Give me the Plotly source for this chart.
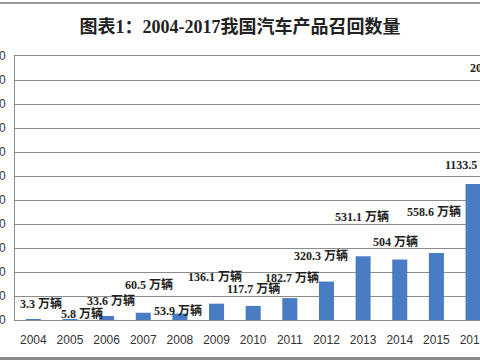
import plotly.graph_objects as go

years = ["2004", "2005", "2006", "2007", "2008", "2009", "2010",
         "2011", "2012", "2013", "2014", "2015", "2016", "2017"]
recalls = [3.3, 5.8, 33.6, 60.5, 53.9, 136.1, 117.7,
           182.7, 320.3, 531.1, 504, 558.6, 1133.5, 2004.5]
label_texts = ["3.3 万辆", "5.8 万辆", "33.6 万辆", "60.5 万辆", "53.9 万辆",
               "136.1 万辆", "117.7 万辆", "182.7 万辆", "320.3 万辆",
               "531.1 万辆", "504 万辆", "558.6 万辆", "1133.5 万辆", "2004.5 万辆"]
# pixel offsets of the hand-placed data labels (style, not data)
label_dx = [8, 12, 4, 6, -2, -2, 0, 2, -5, -1, -4, -2, 1, -10]
label_dy = [16, 6, 15, 28, 3, 27, 17, 21, 26, 40, 18, 41, 19, 12]
y_ticks = list(range(0, 2201, 200))

X_MAX = 12.19          # visible part of the category axis (chart is cropped on the right)
CAT_PX = 465 / (X_MAX + 0.5)  # pixels per category

fig = go.Figure()
fig.add_trace(go.Bar(
    x=years, y=recalls,
    marker=dict(color="#4a7cc4", line=dict(width=0)),
    hoverinfo="x+y",
))

last_visible = int(X_MAX)
for i, (v, t, dx, dy) in enumerate(zip(recalls, label_texts, label_dx, label_dy)):
    anchor = min(i, last_visible)
    fig.add_annotation(
        x=anchor, y=v, text=t, showarrow=False,
        xanchor="center", yanchor="middle",
        xshift=dx + (i - anchor) * CAT_PX, yshift=dy,
        font=dict(family="Liberation Serif, Noto Sans CJK SC", size=12,
                  color="#222222", weight="bold"),
    )

fig.update_layout(
    width=480, height=360,
    margin=dict(l=15, r=0, t=56, b=40, autoexpand=False),
    paper_bgcolor="white", plot_bgcolor="white",
    bargap=0.59,
    showlegend=False,
    title=dict(
        text="图表1：2004-2017我国汽车产品召回数量",
        x=0.5, xanchor="center", y=1 - 27 / 360, yanchor="middle",
        font=dict(family="Liberation Serif, Noto Sans CJK SC", size=18,
                  color="#222222", weight="bold"),
    ),
    xaxis=dict(
        type="category", range=[-0.5, X_MAX], automargin=False,
        showgrid=False, showline=True, linecolor="#8c8c8c", linewidth=1,
        mirror=True, ticks="",
        tickfont=dict(family="Liberation Sans", size=12, color="#333333"),
        ticklabelstandoff=9,
    ),
    yaxis=dict(
        range=[0, 2200], tickvals=y_ticks, automargin=False,
        showgrid=True, gridcolor="#8c8c8c", gridwidth=1,
        showline=True, linecolor="#8c8c8c", linewidth=1, mirror=True,
        ticks="", zeroline=False,
        tickfont=dict(family="Liberation Sans", size=12, color="#333333"),
        ticklabelstandoff=6,
    ),
    shapes=[
        dict(type="line", xref="paper", yref="paper", x0=-0.05, x1=1.05,
             y0=(320 - 3) / 264, y1=(320 - 3) / 264,
             line=dict(color="#9a9a9a", width=2)),
        dict(type="rect", xref="paper", yref="paper", x0=-0.05, x1=1.05,
             y0=(320 - 357) / 264, y1=(320 - 362) / 264,
             fillcolor="#8a8a8a", line=dict(width=0)),
    ],
)

fig.write_html(
    "out.html",
    config={"displayModeBar": False},
    post_script="document.body.style.margin='0';document.body.style.overflow='hidden';",
)
